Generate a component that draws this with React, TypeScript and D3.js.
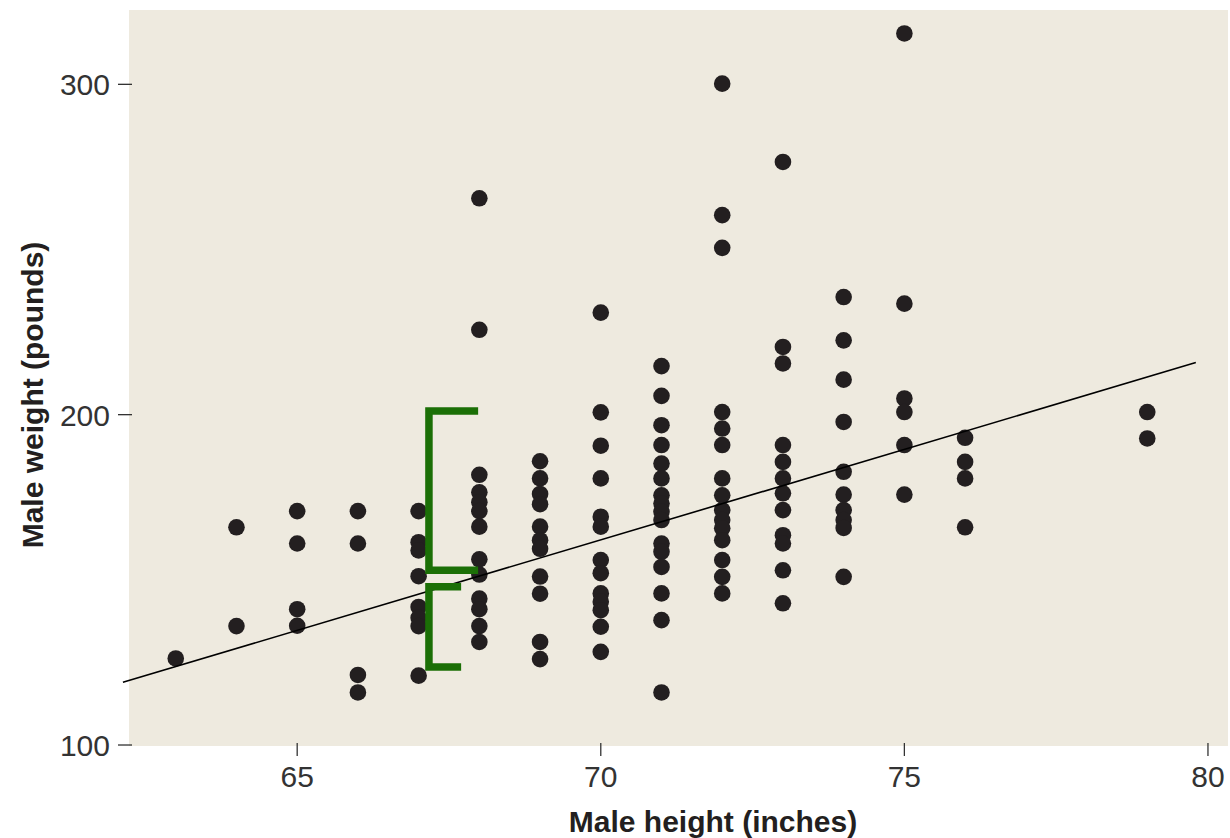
import React from 'react';
import * as d3 from 'd3';

// height columns (inches) and the weights read for each column (pounds)
const heights = [63, 64, 65, 66, 67, 68, 69, 70, 71, 72, 73, 74, 75, 76, 79];
const weights = [
    [126.2],
    [165.9, 136.0],
    [170.8, 161.0, 141.1, 136.1],
    [170.8, 161.0, 121.2, 115.9],
    [170.8, 161.4, 158.9, 151.1, 141.8, 138.5, 136.0, 121.0],
    [265.5, 225.7, 181.8, 176.5, 173.5, 170.8, 166.1, 156.2, 151.6, 144.3, 141.1, 136.0, 131.2],
    [185.9, 180.7, 176.0, 172.9, 166.1, 162.0, 159.4, 151.0, 145.8, 131.2, 126.0],
    [230.9, 200.7, 190.6, 180.7, 169.1, 166.1, 156.0, 152.0, 145.9, 143.4, 140.8, 135.8, 128.2],
    [214.7, 205.7, 196.8, 190.8, 185.2, 180.7, 175.6, 173.1, 170.6, 168.1, 161.0, 158.5, 153.9, 145.9, 137.8, 115.9],
    [300.2, 260.4, 250.5, 200.8, 195.8, 190.8, 180.7, 175.6, 171.1, 168.1, 165.6, 162.0, 156.0, 150.9, 145.9],
    [276.5, 220.5, 215.5, 190.8, 185.7, 180.7, 176.2, 171.1, 163.5, 161.0, 152.9, 142.9],
    [235.6, 222.5, 210.6, 197.8, 182.7, 175.8, 171.1, 168.1, 165.7, 150.9],
    [315.4, 233.6, 204.9, 200.8, 190.8, 175.8],
    [193.0, 185.7, 180.7, 165.9],
    [200.8, 192.8],
];

const xTickValues = [65, 70, 75, 80];
const yTickValues = [100, 200, 300];

// regression line: weight = intercept + slope * height
const fitSlope = 5.48;
const fitIntercept = -221.5;
const fitRange = [62.13, 79.8];

// green brackets: [x, xEnd, yTop, yBottom]
const brackets = [
    [67.17, 67.98, 201.1, 152.9],
    [67.17, 67.7, 147.9, 123.6],
];

const xExtent = [62.23, 80.33];
const yExtent = [99.7, 322.5];

const font = '"Liberation Sans", Arial, Helvetica, sans-serif';

export default function App() {
    const width = 1230;
    const height = 838;
    const margin = {t: 10, b: 92, r: 2, l: 129};

    const x = d3.scaleLinear()
        .domain(xExtent)
        .range([margin.l, width - margin.r]);

    const y = d3.scaleLinear()
        .domain(yExtent)
        .range([height - margin.b, margin.t]);

    const points = heights.flatMap((h, i) => weights[i].map(w => ({h, w})));

    const line = d3.line<number>()
        .x(d => x(d))
        .y(d => y(fitIntercept + fitSlope * d));

    const bottom = y(yExtent[0]);

    //x tick and text
    const xTicks = xTickValues.map(d => (
        <g key={d} transform={`translate(${x(d)},${bottom})`}>
            <line x1="0" x2="0" y1="-3" y2="10" stroke="#333" strokeWidth="1.3"/>
            <text x="0" y="41" textAnchor="middle" fontSize="30" fill="#333">{d}</text>
        </g>
    ));

    //y tick and text
    const yTicks = yTickValues.map(d => (
        <g key={d} transform={`translate(${margin.l},${y(d)})`}>
            <line x1="-11" x2="3" y1="0" y2="0" stroke="#333" strokeWidth="1.3"/>
            <text x="-19" y="11" textAnchor="end" fontSize="30" fill="#333">{d}</text>
        </g>
    ));

    return (
        <svg width={width} height={height} style={{position: 'absolute', left: 0, top: 0}} fontFamily={font}>
            <rect x={x(xExtent[0])} y={y(yExtent[1])}
                  width={x(xExtent[1]) - x(xExtent[0])} height={y(yExtent[0]) - y(yExtent[1])}
                  fill="#eeeadf"/>
            <g>{xTicks}</g>
            <g>{yTicks}</g>
            <g>
                {points.map((p, i) => (
                    <circle key={i} cx={x(p.h)} cy={y(p.w)} r="8.3" fill="#231f20"/>
                ))}
            </g>
            <path d={line(fitRange) || ''} fill="none" stroke="#000" strokeWidth="1.6"/>
            {brackets.map((b, i) => (
                <path key={i}
                      d={`M${x(b[1])},${y(b[2])}H${x(b[0])}V${y(b[3])}H${x(b[1])}`}
                      fill="none" stroke="#1b6f06" strokeWidth="7.5" strokeLinejoin="miter"/>
            ))}
            <text x="713" y="832" textAnchor="middle" fontSize="30" fontWeight="bold" fill="#231f20">
                Male height (inches)
            </text>
            <text transform="translate(43,395) rotate(-90)" textAnchor="middle" fontSize="30" fontWeight="bold" fill="#231f20">
                Male weight (pounds)
            </text>
        </svg>
    );
}
